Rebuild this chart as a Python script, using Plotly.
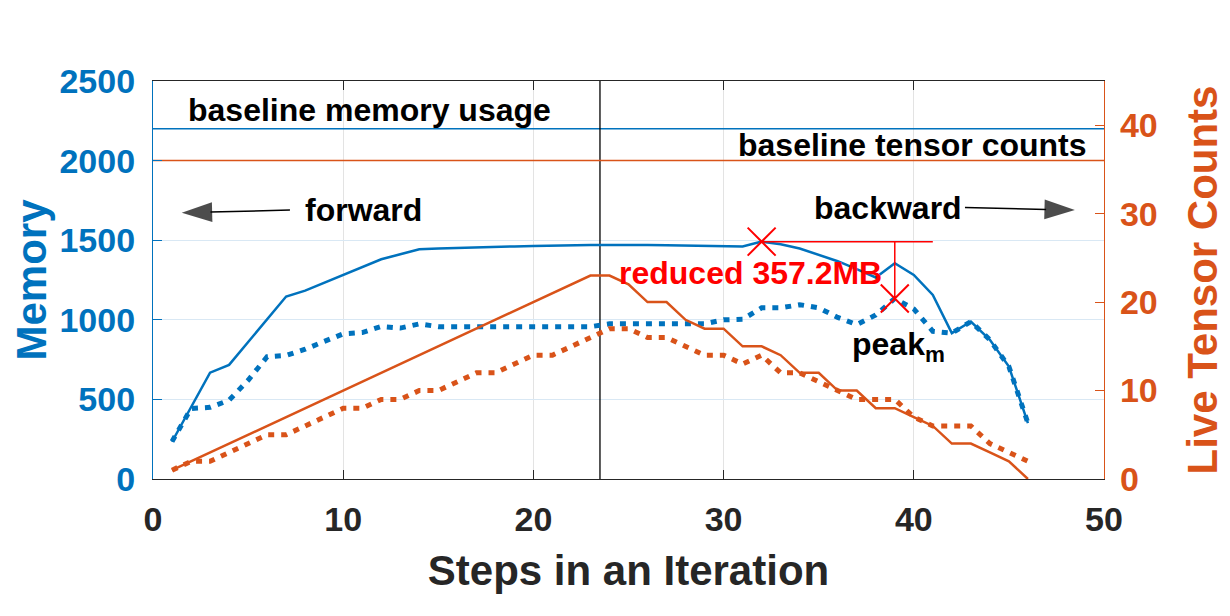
import plotly.graph_objects as go

# ---------------- data ----------------
steps = list(range(1, 47))

memory_baseline_run = [234, 450, 668, 717, 860, 1003, 1146, 1183, 1232, 1282,
                       1331, 1380, 1412, 1443, 1448, 1452, 1455, 1458, 1461, 1463,
                       1466, 1468, 1470, 1470, 1471, 1470, 1468, 1466, 1463, 1460,
                       1460, 1491, 1475, 1448, 1410, 1368, 1318, 1266, 1355, 1282,
                       1156, 916, 989, 874, 706, 351]

memory_optimized = [236, 443, 450, 495, 620, 768, 776, 815, 864, 912,
                    920, 958, 948, 974, 957, 957, 957, 957, 957, 957,
                    957, 957, 957, 975, 975, 975, 975, 975, 975, 1000,
                    1003, 1075, 1075, 1095, 1075, 1015, 970, 1030, 1134, 1068,
                    928, 916, 989, 874, 706, 351]

tensors_baseline_run = [1, 2, 3, 4, 5, 6, 7, 8, 9, 10,
                        11, 12, 13, 14, 15, 16, 17, 18, 19, 20,
                        21, 22, 23, 23, 22, 20, 20, 18, 17, 17,
                        15, 15, 14, 12, 12, 10, 10, 8, 8, 7,
                        6, 4, 4, 3, 2, 0]

tensors_optimized = [1, 2, 2, 3, 4, 5, 5, 6, 7, 8,
                     8, 9, 9, 10, 10, 11, 12, 12, 13, 14,
                     14, 15, 16, 17, 17, 16, 16, 15, 14, 14,
                     13, 14, 12, 12, 11, 10, 9, 9, 9, 7,
                     6, 6, 6, 4, 3, 2]

baseline_memory = 2200
baseline_tensors = 36
forward_backward_split = 23.5
peak_step, peak_value = 32, 1491
peakm_step, peakm_value = 39, 1134
bracket_end = 41

# direction arrows: (tail, tip)
forward_arrow_x = [7.2, 1.51]
forward_arrow_y = [1689, 1672]
backward_arrow_x = [42.69, 48.47]
backward_arrow_y = [1706, 1689]

x_ticks = [0, 10, 20, 30, 40, 50]
mem_ticks = [0, 500, 1000, 1500, 2000, 2500]
tensor_ticks = [0, 10, 20, 30, 40]

# ---------------- style ----------------
BLUE = '#0072BD'
ORANGE = '#D95319'
RED = '#FF0000'
DARK = '#262626'
FONT = 'Liberation Sans, Arial, sans-serif'
DOT = '6px,7px'

fig = go.Figure()

# baselines
fig.add_trace(go.Scatter(x=[0, 50], y=[baseline_memory] * 2, mode='lines',
                         line=dict(color=BLUE, width=1.5), showlegend=False))
fig.add_trace(go.Scatter(x=[0, 50], y=[baseline_tensors] * 2, mode='lines', yaxis='y2',
                         line=dict(color=ORANGE, width=1.5), showlegend=False))
# forward/backward split
fig.add_trace(go.Scatter(x=[forward_backward_split] * 2, y=[0, 2500], mode='lines',
                         line=dict(color='#000000', width=1.3), showlegend=False))

# main series
fig.add_trace(go.Scatter(x=steps, y=tensors_baseline_run, mode='lines', yaxis='y2',
                         line=dict(color=ORANGE, width=2.5), showlegend=False))
fig.add_trace(go.Scatter(x=steps, y=memory_baseline_run, mode='lines',
                         line=dict(color=BLUE, width=2.5), showlegend=False))
fig.add_trace(go.Scatter(x=steps, y=tensors_optimized, mode='lines', yaxis='y2',
                         line=dict(color=ORANGE, width=5, dash=DOT), showlegend=False))
fig.add_trace(go.Scatter(x=steps, y=memory_optimized, mode='lines',
                         line=dict(color=BLUE, width=5, dash=DOT), showlegend=False))

# reduction bracket
fig.add_trace(go.Scatter(x=[peak_step, bracket_end], y=[peak_value, peak_value], mode='lines',
                         line=dict(color=RED, width=1.5), showlegend=False))
fig.add_trace(go.Scatter(x=[peakm_step, peakm_step], y=[peak_value, peakm_value], mode='lines',
                         line=dict(color=RED, width=1.5), showlegend=False))
fig.add_trace(go.Scatter(x=[peak_step, peakm_step], y=[peak_value, peakm_value], mode='markers',
                         marker=dict(symbol='x-thin', size=28, color=RED,
                                     line=dict(color=RED, width=2)), showlegend=False))

# direction arrows
for ax_, ay_ in ((forward_arrow_x, forward_arrow_y), (backward_arrow_x, backward_arrow_y)):
    fig.add_trace(go.Scatter(x=ax_, y=ay_, mode='lines+markers',
                             line=dict(color='#000000', width=1.5),
                             marker=dict(symbol='arrow', size=[0, 32], angleref='previous',
                                         color='#000000', line=dict(width=0)),
                             showlegend=False))

# ---------------- annotations ----------------
ann_font = dict(family=FONT, size=32, color='#000000')
annotations = [
    dict(x=1.74, y=2317, text='<b>baseline memory usage</b>', xanchor='left', yanchor='middle',
         showarrow=False, font=ann_font),
    dict(x=49.2, y=2098, text='<b>baseline tensor counts</b>', xanchor='right', yanchor='middle',
         showarrow=False, font=ann_font),
    dict(x=7.89, y=1690, text='<b>forward</b>', xanchor='left', yanchor='middle',
         showarrow=False, font=ann_font),
    dict(x=34.63, y=1702, text='<b>backward</b>', xanchor='left', yanchor='middle',
         showarrow=False, font=ann_font),
    dict(x=24.38, y=1294, text='<b>reduced 357.2MB</b>', xanchor='left', yanchor='middle',
         showarrow=False, font=dict(family=FONT, size=32, color=RED)),
    dict(x=36.65, y=830, text='<b>peak<sub>m</sub></b>', xanchor='left', yanchor='middle',
         showarrow=False, font=ann_font),
]

# the page body has an 8px default margin, so the margins are reduced by 8px on top/left
fig.update_layout(
    width=1230, height=616,
    margin=dict(l=145, r=134, t=73, b=145),
    paper_bgcolor='white', plot_bgcolor='white',
    font=dict(family=FONT),
    annotations=annotations,
    xaxis=dict(
        range=[0, 50], tickvals=x_ticks, ticktext=[f'<b>{v}</b>' for v in x_ticks],
        tickfont=dict(family=FONT, size=34, color=DARK),
        ticks='inside', ticklen=9, tickcolor=DARK, tickwidth=1.2,
        showline=True, linecolor=DARK, linewidth=1.3, mirror='ticks',
        showgrid=True, gridcolor='#e3e3e3', gridwidth=1.3, zeroline=False,
        ticklabelstandoff=10, automargin=False,
        title=dict(text='<b>Steps in an Iteration</b>',
                   font=dict(family=FONT, size=42, color=DARK), standoff=18),
    ),
    yaxis=dict(
        range=[0, 2500], tickvals=mem_ticks, ticktext=[f'<b>{v}</b>' for v in mem_ticks],
        tickfont=dict(family=FONT, size=34, color=BLUE),
        ticks='inside', ticklen=9, tickcolor=BLUE, tickwidth=1.2,
        showline=True, linecolor=BLUE, linewidth=1.3,
        showgrid=True, gridcolor='#d9e8f4', gridwidth=1.3, zeroline=False,
        ticklabelstandoff=10, automargin=False,
        title=dict(text='<b>Memory</b>', font=dict(family=FONT, size=42, color=BLUE), standoff=28),
    ),
    yaxis2=dict(
        range=[0, 45], overlaying='y', side='right', tickvals=tensor_ticks,
        ticktext=[f'<b>{v}</b>' for v in tensor_ticks],
        tickfont=dict(family=FONT, size=34, color=ORANGE),
        ticks='inside', ticklen=9, tickcolor=ORANGE, tickwidth=1.2,
        showline=True, linecolor=ORANGE, linewidth=1.3,
        showgrid=False, zeroline=False, ticklabelstandoff=8, automargin=False,
        title=dict(text='<b>Live Tensor Counts</b>', font=dict(family=FONT, size=42, color=ORANGE),
                   standoff=30),
    ),
)

fig.write_html('out.html')
